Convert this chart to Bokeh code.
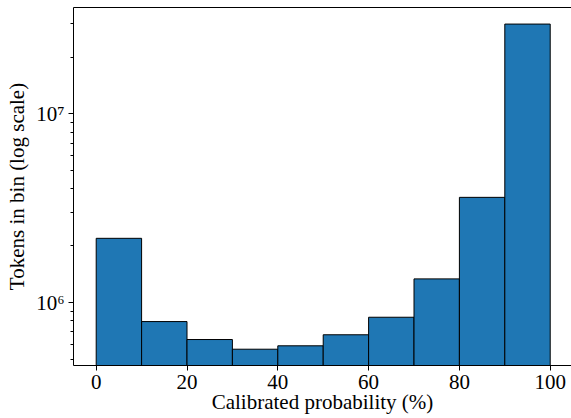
from bokeh.plotting import figure
from bokeh.models import Range1d, FixedTicker, CustomJSTickFormatter, LinearAxis
from bokeh.embed import file_html
from bokeh.resources import INLINE

bin_edges = [0, 10, 20, 30, 40, 50, 60, 70, 80, 90, 100]
counts = [2.19e6, 7.93e5, 6.37e5, 5.66e5, 5.90e5, 6.75e5, 8.36e5, 1.335e6, 3.61e6, 2.99e7]
x_ticks = [0, 20, 40, 60, 80, 100]
y_major = [1e6, 1e7]
y_minor = [5e5, 6e5, 7e5, 8e5, 9e5, 2e6, 3e6, 4e6, 5e6, 6e6, 7e6, 8e6, 9e6, 2e7, 3e7]
x_label = "Calibrated probability (%)"
y_label = "Tokens in bin (log scale)"

FONT = "Liberation Serif"
FS = "21px"

p = figure(width=571, height=418, output_backend="svg", toolbar_location=None,
           y_axis_type="log",
           x_range=Range1d(-5, 104.69), y_range=Range1d(4.64e5, 3.66e7),
           min_border_left=73, min_border_right=0, min_border_top=7, min_border_bottom=53)
p.background_fill_color = "white"
p.border_fill_color = "white"
p.outline_line_color = None
p.grid.visible = False

left = bin_edges[:-1]
right = bin_edges[1:]
p.quad(left=left, right=right, bottom=[1e5] * len(counts), top=counts,
       fill_color="#1f77b4", line_color="black", line_width=1)

xa = p.xaxis[0]
xa.ticker = FixedTicker(ticks=x_ticks)
xa.minor_tick_line_color = None
xa.major_tick_out = 5
xa.major_tick_in = 0
xa.major_label_standoff = 4
xa.major_label_text_font = FONT
xa.major_label_text_font_size = FS
xa.major_label_text_color = "black"
xa.axis_line_color = "black"
xa.major_tick_line_color = "black"
xa.axis_label = x_label
xa.axis_label_text_font = FONT
xa.axis_label_text_font_size = FS
xa.axis_label_text_font_style = "normal"
xa.axis_label_text_color = "black"
xa.axis_label_standoff = -2

ya = p.yaxis[0]
ya.ticker = FixedTicker(ticks=y_major, minor_ticks=y_minor)
ya.formatter = CustomJSTickFormatter(code="""
const e = Math.round(Math.log10(tick));
const sup = {'4':'\u2074','5':'\u2075','6':'\u2076','7':'\u2077','8':'\u2078','9':'\u2079'};
return '10' + String(e).split('').map(c => sup[c]).join('');
""")
ya.major_tick_out = 5
ya.major_tick_in = 0
ya.minor_tick_out = 3
ya.minor_tick_in = 0
ya.major_label_standoff = 4
ya.major_label_text_font = FONT
ya.major_label_text_font_size = FS
ya.major_label_text_color = "black"
ya.axis_line_color = "black"
ya.major_tick_line_color = "black"
ya.minor_tick_line_color = "black"
ya.axis_label = y_label
ya.axis_label_text_font = FONT
ya.axis_label_text_font_size = FS
ya.axis_label_text_font_style = "normal"
ya.axis_label_text_color = "black"
ya.axis_label_standoff = 4

top_axis = LinearAxis(ticker=FixedTicker(ticks=[]), major_label_standoff=0,
                      major_tick_out=0, major_tick_in=0,
                      minor_tick_out=0, minor_tick_in=0,
                      axis_line_color="black", major_label_text_font_size="0px")
p.add_layout(top_axis, "above")

open("out.html", "w").write(file_html(p, INLINE))
